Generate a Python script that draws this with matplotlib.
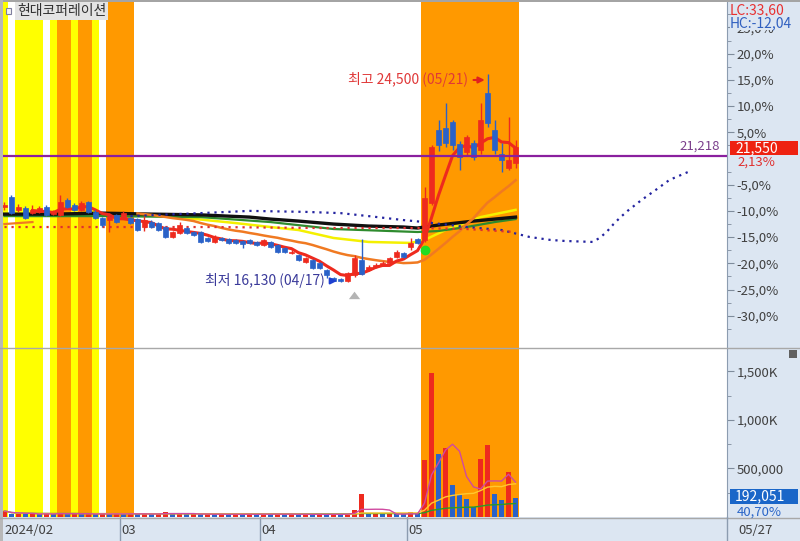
import matplotlib
matplotlib.use('Agg')
import matplotlib.pyplot as plt
import matplotlib.transforms as mtrans
from matplotlib.patches import Rectangle
from matplotlib.lines import Line2D
import numpy as np
import pandas as pd

plt.rcParams['font.family'] = ['Noto Sans CJK KR', 'DejaVu Sans']

# 일봉 데이터 (2024/02/05 ~ 2024/05/27)
opens = [19150, 19550, 19030, 19110, 18910, 18950, 19150, 18870, 18830, 19430,
         19230, 19030, 19350, 18950, 18700, 18620, 18830, 18700, 18700, 18660,
         18340, 18540, 18500, 18340, 17940, 18100, 18300, 18140, 18140, 17900,
         17740, 17900, 17860, 17820, 17780, 17820, 17740, 17620, 17740, 17620,
         17500, 17290, 17210, 16930, 17010, 16890, 16610, 16290, 16250, 16170,
         16410, 17010, 16610, 16730, 16810, 16890, 17130, 17290, 17540, 17860,
         17820, 19310, 22250, 22330, 22570, 21680, 21360, 21720, 21440, 23740,
         22250, 21280, 20720, 20920]
highs = [19350, 19630, 19270, 19190, 19230, 19190, 19230, 19030, 19630, 19510,
         19310, 19390, 19390, 19030, 18740, 18910, 18870, 18990, 18740, 18700,
         18780, 18620, 18540, 18380, 18180, 18540, 18340, 18180, 18180, 17940,
         18020, 17940, 17900, 17860, 17820, 17860, 17780, 17860, 17780, 17660,
         17540, 17420, 17250, 17130, 17050, 16930, 16650, 16330, 16290, 16530,
         17210, 17860, 16810, 16890, 16970, 17130, 17420, 17330, 17900, 17900,
         19950, 21650, 22650, 23340, 22650, 21800, 22050, 21850, 23340, 24500,
         22650, 21720, 22770, 21850]
lows = [19030, 18870, 18950, 18660, 18870, 18910, 18780, 18830, 18780, 19110,
        18990, 18990, 18910, 18660, 18340, 18140, 18500, 18660, 18460, 18180,
        18180, 18300, 18180, 17900, 17900, 18060, 18060, 17980, 17700, 17740,
        17700, 17780, 17660, 17660, 17500, 17660, 17580, 17580, 17500, 17290,
        17290, 17250, 16970, 16890, 16650, 16650, 16290, 16150, 16130, 16140,
        16330, 16410, 16570, 16690, 16770, 16850, 17090, 17090, 17420, 17660,
        17740, 19230, 21400, 21560, 21440, 20640, 21200, 21040, 21300, 22350,
        21300, 20560, 20640, 20720]
closes = [19230, 18910, 19150, 18700, 19030, 19110, 18830, 18950, 19350, 19150,
          19030, 19310, 18950, 18700, 18420, 18780, 18540, 18910, 18500, 18220,
          18620, 18340, 18220, 17940, 18140, 18420, 18100, 18020, 17740, 17780,
          17940, 17820, 17700, 17700, 17660, 17700, 17620, 17820, 17540, 17330,
          17330, 17330, 17010, 17090, 16690, 16690, 16410, 16170, 16170, 16490,
          17090, 16450, 16730, 16810, 16890, 17090, 17330, 17130, 17700, 17700,
          19510, 21560, 21640, 21720, 21640, 21160, 21970, 21160, 22650, 22530,
          21440, 21040, 21040, 21550]
volumes = [62000, 30000, 35000, 28000, 33000, 30000, 36000, 31000, 45000, 30000,
           34000, 29000, 33000, 28000, 35000, 31000, 36000, 30000, 34000, 29000,
           33000, 28000, 32000, 52000, 30000, 34000, 28000, 32000, 27000, 31000,
           26000, 30000, 27000, 31000, 26000, 30000, 27000, 32000, 28000, 31000,
           27000, 30000, 26000, 29000, 25000, 29000, 26000, 30000, 27000, 31000,
           72000, 233000, 30000, 34000, 28000, 32000, 27000, 26000, 47000, 28000,
           586000, 1483000, 644000, 706000, 326000, 223000, 185000, 108000, 596000, 737000,
           233000, 175000, 459000, 192051]

month_labels = ['2024/02', '03', '04', '05']
month_start = [0, 17, 37, 58]
last_date = '05/27'

# 강조 구간 (일자 인덱스)
yellow_days = [0, 2, 3, 4, 5, 7, 10, 13]
orange_days = [8, 9, 11, 12, 15, 16, 17, 18,
               60, 61, 62, 63, 64, 65, 66, 67, 68, 69, 70, 71, 72, 73]

# 장기 이동평균 / 기준선
black_idx = [0, 7, 14, 21, 28, 35, 38, 42, 47, 52, 57, 59, 62, 67, 70, 73]
black_val = [18860, 18860, 18900, 18860, 18830, 18740, 18660, 18580, 18460, 18380,
             18340, 18300, 18420, 18580, 18660, 18740]
green_idx = [0, 14, 28, 38, 47, 59, 62, 66, 70, 73]
green_val = [18780, 18780, 18740, 18540, 18260, 18140, 18180, 18340, 18540, 18660]
yellow_idx = [14, 19, 26, 33, 38, 42, 47, 52, 58, 60, 63, 68, 73]
yellow_val = [18860, 18830, 18700, 18500, 18340, 18220, 17900, 17740, 17700, 17820,
              18220, 18740, 19030]
orange_head_idx = [0, 4]
orange_head_val = [18460, 18540]
base_idx = [0, 30, 45, 59, 66, 73]
base_val = [18340, 18340, 18300, 18300, 18260, 18140]
lead_idx = [15, 22, 28, 35, 43, 48, 52, 57, 60, 66, 71, 75, 78, 80, 84, 85, 86, 87,
            88, 89, 91, 93, 95, 98]
lead_val = [18740, 18830, 18900, 18990, 18950, 18900, 18780, 18620, 18540, 18340,
            18220, 17940, 17820, 17780, 17740, 17900, 18140, 18460, 18740, 18990,
            19430, 19830, 20240, 20600]

base_price = 21100
pct_ticks = [25, 20, 15, 10, 5, -5, -10, -15, -20, -25, -30]
hline_price = 21218
low_idx, low_price = 48, 16130
high_idx, high_price = 69, 24500

RED = '#ee2a1e'
BLUE = '#2a62c8'
PANEL = '#dce6f2'

W, H = 800, 541
def fx(px):
    return px / W
def fy(py):
    return 1 - py / H

fig = plt.figure(figsize=(8, 5.41), dpi=100, facecolor=PANEL)
axp = fig.add_axes([fx(3), fy(348), fx(727) - fx(3), fy(2) - fy(348)])
axv = fig.add_axes([fx(3), fy(517), fx(727) - fx(3), fy(348) - fy(517)])

def spans(days):
    days = sorted(days)
    out = []
    start = prev = days[0]
    for d in days[1:]:
        if d == prev + 1:
            prev = d
        else:
            out.append((start, prev))
            start = prev = d
    out.append((start, prev))
    return out

for ax in (axp, axv):
    ax.set_facecolor('white')
    for a, b in spans(yellow_days):
        ax.axvspan(a - 0.5, b + 0.5, color='#ffff00', lw=0, zorder=0)
    for a, b in spans(orange_days):
        ax.axvspan(a - 0.5, b + 0.5, color='#ff9900', lw=0, zorder=0)
    ax.set_xlim(-0.21, 103.2)
    ax.set_xticks([])
    for s in ('top', 'left', 'bottom'):
        ax.spines[s].set_visible(False)
    ax.spines['right'].set_color('#8c9cb0')
    ax.yaxis.tick_right()
    ax.tick_params(axis='y', which='both', direction='out', color='#7f8c9c',
                   labelcolor='#404040', labelsize=9.5, pad=2)
    ax.tick_params(axis='y', which='major', length=5)
    ax.tick_params(axis='y', which='minor', length=3)

# 가격 패널
x = np.arange(len(closes))
o, h, l, c = map(np.array, (opens, highs, lows, closes))
col = np.where(c >= o, RED, BLUE)

cs = pd.Series(closes)
ma5 = cs.rolling(5).mean()
ma20 = cs.rolling(20).mean()

dot = (0, (1.0, 2.15))
axp.plot(lead_idx, lead_val, color='#2424a0', lw=1.6, ls=dot, zorder=3.5)
axp.plot(base_idx, base_val, color='#e03030', lw=1.6, ls=dot, zorder=3.5)
axp.plot(black_idx, black_val, color='#101010', lw=2.4, zorder=3)
axp.plot(green_idx, green_val, color='#2e8b2e', lw=1.6, zorder=2.9)
axp.plot(yellow_idx, yellow_val, color='#f4f000', lw=1.8, zorder=2.8)
axp.plot(orange_head_idx, orange_head_val, color='#f07a22', lw=1.6, zorder=3)
axp.plot(x, ma20, color='#f07a22', lw=1.8, zorder=3)
axp.plot(x, ma5, color='#ee2a1e', lw=2.2, zorder=3.2)

axp.vlines(x, l, h, colors=col, lw=1, zorder=4)
axp.bar(x, np.maximum(np.abs(c - o), 30), bottom=np.minimum(o, c), width=0.7,
        color=col, edgecolor=col, lw=0.5, zorder=5)

axp.axhline(hline_price, color='#8a1f9e', lw=1.6, zorder=6)
axp.text(102.2, hline_price + 120, f'{hline_price:,}', color='#7b3f8c', fontsize=9.5,
         ha='right', va='bottom', zorder=7)

axp.annotate(f'최저 {low_price:,} (04/17)', xy=(low_idx - 0.5, low_price + 40),
             xytext=(low_idx - 2.2, low_price + 40), ha='right', va='center',
             color='#3a3a9a', fontsize=10,
             arrowprops=dict(arrowstyle='-|>', color='#1e40d0', lw=1.5,
                             shrinkA=2, shrinkB=0, mutation_scale=9), zorder=7)
axp.annotate(f'최고 {high_price:,} (05/21)', xy=(high_idx - 0.4, high_price - 240),
             xytext=(high_idx - 2.8, high_price - 240), ha='right', va='center',
             color='#e03838', fontsize=10,
             arrowprops=dict(arrowstyle='-|>', color='#e02020', lw=1.5,
                             shrinkA=2, shrinkB=0, mutation_scale=9), zorder=7)
axp.annotate('', xy=(50, 15850), xytext=(50, 15380),
             arrowprops=dict(arrowstyle='simple,head_width=0.9,head_length=0.6,tail_width=0.45',
                             color='#b4b4b4', lw=0, mutation_scale=9), zorder=7)
axp.plot([60], [17420], 'o', color='#22dd22', ms=6, zorder=6)

axp.set_ylim(13470, 27400)
axp.set_yticks([base_price * (1 + p / 100) for p in pct_ticks])
axp.set_yticklabels([f'{p:.1f}%'.replace('.', ',') for p in pct_ticks])
axp.set_yticks([base_price * (1 + p / 100) for p in np.arange(-32.5, 30, 5)], minor=True)

# 거래량 패널
v = np.array(volumes)
vcol = [RED] + [RED if v[i] >= v[i - 1] else BLUE for i in range(1, len(v))]
axv.bar(x, v, width=0.7, color=vcol, lw=0, zorder=3)
vs = pd.Series(volumes)
axv.plot(x, vs.rolling(60, min_periods=1).mean(), color='#2a9a2a', lw=1, zorder=4)
axv.plot(x, vs.rolling(20, min_periods=1).mean(), color='#ffc830', lw=1, zorder=4)
axv.plot(x, vs.rolling(5, min_periods=1).mean(), color='#d04aa0', lw=1, zorder=4)
axv.set_ylim(0, 1740000)
axv.set_yticks([500000, 1000000, 1500000])
axv.set_yticklabels(['500,000', '1,000K', '1,500K'])
axv.set_yticks([250000, 750000, 1250000], minor=True)

# 날짜 축
bt = mtrans.blended_transform_factory(axv.transData, axv.transAxes)
for m, lab in zip(month_start, month_labels):
    xb = m - 0.5
    if m > 0:
        axv.plot([xb, xb], [0, -24 / 169], transform=bt, color='#8c9cb0', lw=1, clip_on=False)
    axv.text(max(xb, -0.21) + 0.25, -13 / 169, lab, transform=bt, ha='left', va='center',
             fontsize=9.5, color='#404040')

# 테두리 / 구분선
fig.add_artist(Line2D([0, 1], [fy(348), fy(348)], color='#a8a8a8', lw=1))
fig.add_artist(Line2D([0, 1], [fy(517.5), fy(517.5)], color='#a8a8a8', lw=1))
fig.add_artist(Line2D([fx(727), fx(727)], [0, fy(517)], color='#8c9cb0', lw=1))
fig.add_artist(Rectangle((0, fy(2)), 1, 2 / H, color='#a4a4a4', lw=0))
fig.add_artist(Rectangle((0, 0), 3 / W, 1, color='#b8b8b8', lw=0))

# 종목명
fig.add_artist(Rectangle((fx(6), fy(14)), 5 / W, 6 / H, facecolor='#f4f4f4',
                         edgecolor='#8080a0', lw=0.8))
fig.text(fx(17), fy(11), '현대코퍼레이션', fontsize=10, color='#303030', va='center',
         bbox=dict(facecolor='#e4e4e4', edgecolor='none', pad=1.2))

# 우측 정보
fig.text(fx(730), fy(10), 'LC:33,60', color='#e83030', fontsize=10, va='center')
fig.text(fx(730), fy(23), 'HC:-12,04', color='#3060c0', fontsize=10, va='center',
         bbox=dict(facecolor=PANEL, edgecolor='none', pad=0.3))
fig.text(fx(737), fy(162), '2,13%', color='#e03030', fontsize=9.5, va='center', zorder=4)
fig.add_artist(Rectangle((fx(730), fy(155)), 68 / W, 14 / H, color='#ee2211', lw=0, zorder=5))
fig.text(fx(735), fy(148), f'{closes[-1]:,}', color='white', fontsize=10, va='center', zorder=6)
fig.text(fx(737), fy(512), '40,70%', color='#2a66c8', fontsize=9.5, va='center', zorder=4)
fig.add_artist(Rectangle((fx(730), fy(504)), 68 / W, 15 / H, color='#1a66c8', lw=0, zorder=5))
fig.text(fx(735), fy(496.5), f'{volumes[-1]:,}', color='white', fontsize=10, va='center', zorder=6)
fig.add_artist(Rectangle((fx(789), fy(358)), 8 / W, 8 / H, color='#606060', lw=0))
fig.text(fx(738), fy(530), last_date, color='#404040', fontsize=9.5, va='center')

fig.savefig('out.png', dpi=100, facecolor=fig.get_facecolor())
